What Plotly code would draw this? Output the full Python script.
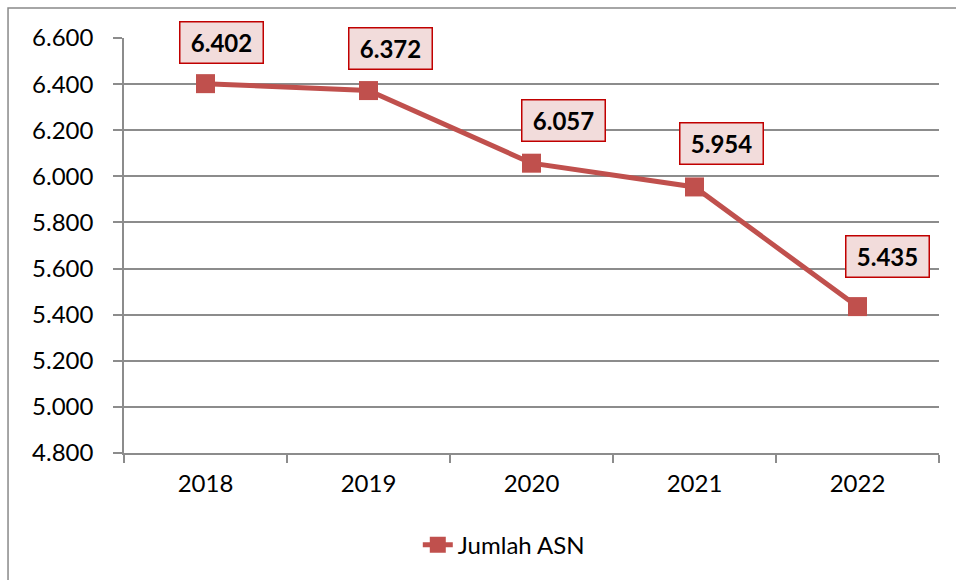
import plotly.graph_objects as go

years = ["2018", "2019", "2020", "2021", "2022"]
jumlah_asn = [6402, 6372, 6057, 5954, 5435]
label_text = ["6.402", "6.372", "6.057", "5.954", "5.435"]
y_ticks = [4800, 5000, 5200, 5400, 5600, 5800, 6000, 6200, 6400, 6600]

# pixel offsets of the data-label boxes from their points (layout only)
label_dx = [16, 22, 32, 27, 30]
label_dy = [41, 42, 43, 43, 50]

RED = "#c0504d"
GRID = "#8c8c8c"
FONT = "Lato"

fig = go.Figure()
fig.add_trace(go.Scatter(
    x=years, y=jumlah_asn, mode="lines+markers", name="Jumlah ASN",
    line=dict(color=RED, width=5),
    marker=dict(symbol="square", size=19, color=RED),
))

for i, (y, t) in enumerate(zip(jumlah_asn, label_text)):
    fig.add_annotation(
        x=i, y=y, xref="x", yref="y", text="<b>" + t + "</b>", showarrow=False,
        xshift=label_dx[i], yshift=label_dy[i],
        font=dict(family=FONT, size=24, color="black"),
        bgcolor="#f2dcdb", bordercolor="#c00000", borderwidth=1.5,
        borderpad=4, width=74, height=32,
    )

# outer chart border
fig.add_shape(type="rect", xref="paper", yref="paper",
              x0=-0.1423, x1=1.2, y0=-0.5, y1=1.0723,
              line=dict(color="#898989", width=1.5), fillcolor="rgba(0,0,0,0)",
              layer="below")

fig.update_layout(
    width=956, height=580,
    margin=dict(l=124, r=17, t=38, b=127),
    paper_bgcolor="white", plot_bgcolor="white",
    separators=",.",
    font=dict(family=FONT, size=24, color="black"),
    showlegend=True,
    legend=dict(orientation="h", x=0.466, xanchor="center", y=-0.222, yanchor="middle",
                font=dict(family=FONT, size=24, color="black"),
                bgcolor="rgba(0,0,0,0)"),
    xaxis=dict(
        type="category", range=[-0.5, 4.5], tickson="boundaries",
        ticks="outside", ticklen=8, tickcolor=GRID, tickwidth=1.5,
        showgrid=False, showline=True, linecolor=GRID, linewidth=1.5,
        ticklabelstandoff=8, tickfont=dict(family=FONT, size=24, color="black"),
        automargin=False,
    ),
    yaxis=dict(
        range=[4800, 6600], tickvals=y_ticks, tickformat=",.0f",
        ticks="outside", ticklen=9, tickcolor=GRID, tickwidth=1.5,
        showgrid=True, gridcolor=GRID, gridwidth=1.5,
        showline=True, linecolor=GRID, linewidth=1.5,
        zeroline=False, ticklabelstandoff=15,
        tickfont=dict(family=FONT, size=24, color="black"),
        automargin=False,
    ),
)

fig.write_html("out.html", config={"displayModeBar": False},
               post_script="document.body.style.margin='0';document.body.style.overflow='hidden';")
